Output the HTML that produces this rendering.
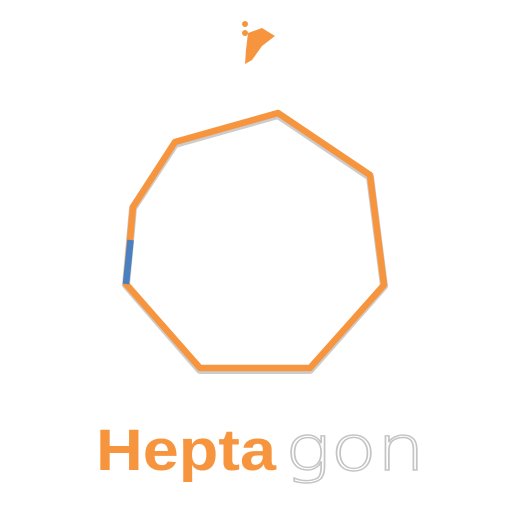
<!DOCTYPE html>
<html><head><meta charset="utf-8"><style>
html,body{margin:0;padding:0;background:#fff;width:509px;height:512px;overflow:hidden}
</style></head><body>
<svg width="509" height="512" viewBox="0 0 509 512" xmlns="http://www.w3.org/2000/svg">
  <g fill="none" stroke-linejoin="round">
    <polygon points="278,115 370,177 384,286 310,370 200,370 126,285 133,208 175,144" stroke="#9a9a9a" stroke-width="8" opacity="0.5"/>
    <polygon points="278,113 370,175 384,285 310,368 200,368 126,284 133,207 175,142" stroke="#f7953e" stroke-width="6.5"/>
    <line x1="130.6" y1="240" x2="126" y2="284" stroke="#4a7fc0" stroke-width="6.5"/>
  </g>
  <path d="M248,33 L262,28 L275,36 L262,46 L252,60 L245,64 L246,50 Z" fill="#f7953e"/>
  <circle cx="245" cy="24" r="3" fill="#f7953e"/>
  <circle cx="245" cy="33" r="3" fill="#f7953e"/>
  <text x="96" y="470" font-family="Liberation Sans, sans-serif" font-size="58" font-weight="bold" fill="#f7953e" textLength="180" lengthAdjust="spacingAndGlyphs">Hepta</text>
  <text x="285" y="470" font-family="DejaVu Sans, sans-serif" font-size="62" font-weight="200" fill="#fff" stroke="#c4c4c4" stroke-width="1.4" textLength="140" lengthAdjust="spacingAndGlyphs">gon</text>
</svg>
</body></html>
